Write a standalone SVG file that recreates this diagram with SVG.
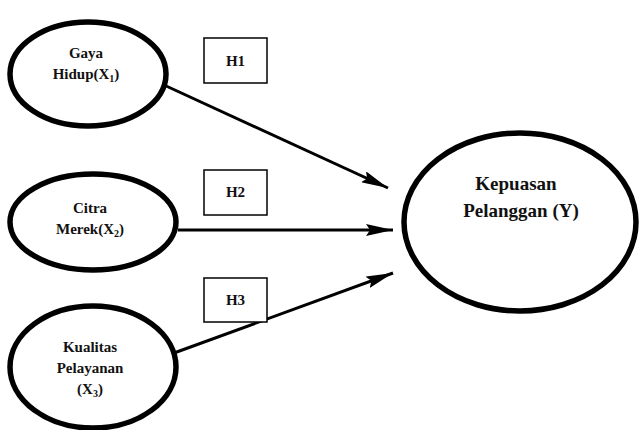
<svg xmlns="http://www.w3.org/2000/svg" width="640" height="430" viewBox="0 0 640 430">
<style>
.n{fill:#fff;stroke:#000;stroke-width:5.5}
.b{fill:#fff;stroke:#000;stroke-width:1.5}
.t{font-family:"Liberation Serif","Times New Roman","DejaVu Serif",serif;font-weight:bold;font-size:15px;fill:#111;text-anchor:middle}
.ty{font-size:19px}
.c{stroke:#000;stroke-width:3;fill:none;marker-end:url(#ah)}
.s{font-size:10px}
</style>
<defs>
<marker id="ah" viewBox="0 0 10 10" refX="10" refY="5" markerWidth="9" markerHeight="4" orient="auto" markerUnits="strokeWidth" preserveAspectRatio="none">
<path d="M0,0 L10,5 L0,10 L1.5,5 Z" fill="#000"/>
</marker>
</defs>
<rect width="640" height="430" fill="#fff"/>
<g id="connectors">
<line class="c" x1="164" y1="85" x2="388" y2="188"/>
<line class="c" x1="178" y1="230" x2="393" y2="230"/>
<line class="c" x1="174" y1="353" x2="393" y2="273"/>
</g>
<g id="h1"><rect class="b" x="204" y="38" width="63" height="45"/><text class="t" font-family="Liberation Serif, serif" x="235.5" y="66">H1</text></g>
<g id="h2"><rect class="b" x="204" y="170" width="63" height="45"/><text class="t" x="235.5" y="197">H2</text></g>
<g id="h3"><rect class="b" x="204" y="278" width="63" height="44"/><text class="t" x="235.5" y="305">H3</text></g>
<g id="x1"><ellipse class="n" cx="88" cy="74" rx="78" ry="52"/>
<text class="t" x="86" y="58">Gaya</text>
<text class="t" x="86" y="79">Hidup(X<tspan class="s" dy="3">1</tspan><tspan dy="-3">)</tspan></text></g>
<g id="x2"><ellipse class="n" cx="93" cy="222" rx="83" ry="48"/>
<text class="t" x="90" y="213">Citra</text>
<text class="t" x="90" y="234">Merek(X<tspan class="s" dy="3">2</tspan><tspan dy="-3">)</tspan></text></g>
<g id="x3"><ellipse class="n" cx="93" cy="367" rx="83" ry="61"/>
<text class="t" x="90" y="352">Kualitas</text>
<text class="t" x="90" y="373">Pelayanan</text>
<text class="t" x="90" y="394">(X<tspan class="s" dy="3">3</tspan><tspan dy="-3">)</tspan></text></g>
<g id="y"><ellipse class="n" cx="520" cy="222" rx="116" ry="89"/>
<text class="t ty" x="516" y="190">Kepuasan</text>
<text class="t ty" x="521" y="217">Pelanggan (Y)</text></g>
</svg>
